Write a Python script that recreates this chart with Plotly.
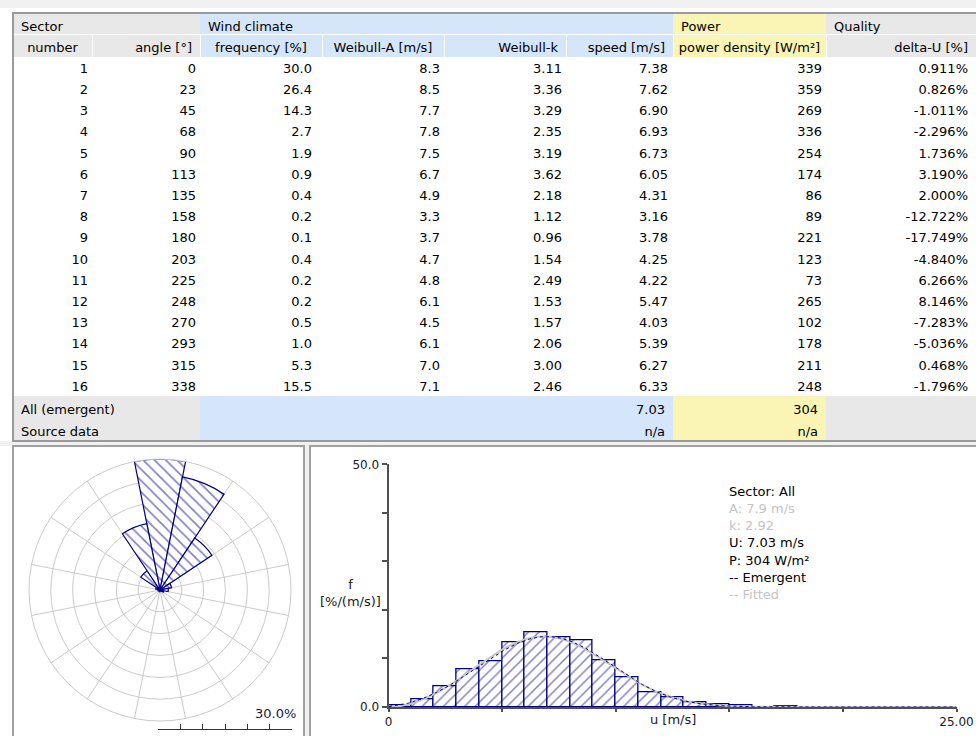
import numpy as np
import plotly.graph_objects as go

W, H = 976, 736
FONT = "DejaVu Sans"

# ---------------- sector table ----------------
sector_number = list(range(1, 17))
sector_angle = [0, 23, 45, 68, 90, 113, 135, 158, 180, 203, 225, 248, 270, 293, 315, 338]
frequency = [30.0, 26.4, 14.3, 2.7, 1.9, 0.9, 0.4, 0.2, 0.1, 0.4, 0.2, 0.2, 0.5, 1.0, 5.3, 15.5]
weibull_a = [8.3, 8.5, 7.7, 7.8, 7.5, 6.7, 4.9, 3.3, 3.7, 4.7, 4.8, 6.1, 4.5, 6.1, 7.0, 7.1]
weibull_k = [3.11, 3.36, 3.29, 2.35, 3.19, 3.62, 2.18, 1.12, 0.96, 1.54, 2.49, 1.53, 1.57, 2.06, 3.00, 2.46]
mean_speed = [7.38, 7.62, 6.90, 6.93, 6.73, 6.05, 4.31, 3.16, 3.78, 4.25, 4.22, 5.47, 4.03, 5.39, 6.27, 6.33]
power_density = [339, 359, 269, 336, 254, 174, 86, 89, 221, 123, 73, 265, 102, 178, 211, 248]
delta_u = [0.911, 0.826, -1.011, -2.296, 1.736, 3.190, 2.000, -12.722, -17.749,
           -4.840, 6.266, 8.146, -7.283, -5.036, 0.468, -1.796]

all_speed = 7.03
all_power = 304

# fitted Weibull for all sectors
fit_a = 7.9
fit_k = 2.92

# observed speed distribution, 1 m/s bins starting at 0 m/s  [%/(m/s)]
bin_left = list(range(0, 18))
hist_freq = [0.4, 1.5, 4.2, 7.8, 9.4, 13.3, 15.4, 14.4, 13.7, 9.7, 6.1, 3.0, 1.9, 0.9, 0.6, 0.3, 0.0, 0.2]

# ---------------- styling ----------------
GRAY = "#E8E8E8"
BLUE = "#D5E5FA"
YELLOW = "#FAF4B5"
NAVY = "#000080"
GRID = "#CBCBCB"
AXIS = "#505050"
LIGHT_TXT = "#C4C4C4"
BG = "#F0F0F0"
TXT = dict(family=FONT, size=13, color="black")


def px_x(x):
    return x / W


def px_y(y):
    return 1 - y / H


def weibull_pdf(u, a, k):
    return (k / a) * (u / a) ** (k - 1) * np.exp(-(u / a) ** k)


fig = go.Figure()

# ---- sector rows (white body; first sector row acts as the table's header row) ----
data_cols = [
    [str(n) for n in sector_number],
    [str(a) for a in sector_angle],
    [f"{v:.1f}" for v in frequency],
    [f"{v:.1f}" for v in weibull_a],
    [f"{v:.2f}" for v in weibull_k],
    [f"{v:.2f}" for v in mean_speed],
    [f"{v:d}" for v in power_density],
    [f"{v:.3f}%" for v in delta_u],
]
fig.add_trace(go.Table(
    domain=dict(x=[px_x(17), 1], y=[px_y(396), px_y(55)]),
    columnwidth=[79, 108, 116, 128, 122, 106, 154, 146],
    header=dict(values=[c[0] for c in data_cols], fill_color="white",
                line=dict(color="white", width=1), align="right", height=21.2, font=TXT),
    cells=dict(values=[c[1:] for c in data_cols], fill_color="white",
               line=dict(color="white", width=1), align="right", height=21.2, font=TXT),
))

# ---- group header row ----
fig.add_trace(go.Table(
    domain=dict(x=[px_x(13), 1], y=[px_y(34), px_y(13)]),
    columnwidth=[187, 473, 153, 150],
    header=dict(values=["Sector", "Wind climate", "Power", "Quality"],
                fill_color=[GRAY, BLUE, YELLOW, GRAY],
                line=dict(color=[GRAY, BLUE, YELLOW, GRAY], width=1),
                align="left", height=21, font=TXT),
    cells=dict(values=[[], [], [], []]),
))

# ---- column titles ----
fig.add_trace(go.Table(
    domain=dict(x=[px_x(13), 1], y=[px_y(57), px_y(34)]),
    columnwidth=[79, 108, 122, 122, 122, 107, 153, 150],
    header=dict(values=["number", "angle [°]", "frequency [%]", "Weibull-A [m/s]",
                        "Weibull-k", "speed [m/s]",
                        "power\u00a0density\u00a0[W/m²]", "delta-U [%]"],
                fill_color=[GRAY, GRAY, BLUE, BLUE, BLUE, BLUE, YELLOW, GRAY],
                line=dict(color="white", width=1),
                align=["center", "right", "center", "center", "right", "right", "center", "right"],
                height=23, font=TXT),
    cells=dict(values=[[] for _ in range(8)]),
))

# ---- summary rows ----
sum_fill = [GRAY, BLUE, BLUE, YELLOW, GRAY]
fig.add_trace(go.Table(
    domain=dict(x=[px_x(13), 1], y=[px_y(441), px_y(396)]),
    columnwidth=[187, 366, 107, 153, 150],
    header=dict(values=["All (emergent)", "", f"{all_speed:.2f}", f"{all_power:d}", ""],
                fill_color=sum_fill, line=dict(color=sum_fill, width=1),
                align=["left", "right", "right", "right", "right"], height=22, font=TXT),
    cells=dict(values=[["Source data"], [""], ["n/a"], ["n/a"], [""]],
               fill_color=sum_fill, line=dict(color=sum_fill, width=1),
               align=["left", "right", "right", "right", "right"], height=22, font=TXT),
))

# ---- wind rose ----
sector_width = 360 / len(sector_number)
fig.add_trace(go.Barpolar(
    r=frequency,
    theta=[(n - 1) * sector_width for n in sector_number],
    width=[sector_width] * len(sector_number),
    marker=dict(color="white", line=dict(color=NAVY, width=1.2),
                pattern=dict(shape="\\", fgcolor=NAVY, bgcolor="white", size=8, solidity=0.2)),
    subplot="polar", hoverinfo="skip", showlegend=False,
))

# ---- speed histogram ----
fig.add_trace(go.Bar(
    x=[b + 0.5 for b in bin_left], y=hist_freq, width=1,
    marker=dict(color="white", line=dict(color=NAVY, width=1.3),
                pattern=dict(shape="/", fgcolor=NAVY, bgcolor="white", size=7.5, solidity=0.2)),
    xaxis="x", yaxis="y", hoverinfo="skip", showlegend=False,
))

u = np.linspace(0.02, 25, 800)
fitted = 100 * weibull_pdf(u, fit_a, fit_k)
emergent = sum(f * weibull_pdf(u, a, k) for f, a, k in zip(frequency, weibull_a, weibull_k))
fig.add_trace(go.Scatter(x=u, y=fitted, mode="lines", line=dict(color="#C6C6C6", width=2),
                         xaxis="x", yaxis="y", hoverinfo="skip", showlegend=False))
fig.add_trace(go.Scatter(x=u, y=emergent, mode="lines", line=dict(color=NAVY, width=1, dash="dot"),
                         xaxis="x", yaxis="y", hoverinfo="skip", showlegend=False))

# scale bar of the rose (0 .. 30 %)
fig.add_trace(go.Scatter(x=[0, 30], y=[0, 0], mode="lines", line=dict(width=0),
                         xaxis="x2", yaxis="y2", hoverinfo="skip", showlegend=False))

# ---------------- layout ----------------
shapes = [
    # window background pieces
    dict(type="rect", xref="paper", yref="paper", x0=0, x1=1, y0=px_y(8), y1=1,
         fillcolor=BG, line=dict(width=0), layer="below"),
    dict(type="rect", xref="paper", yref="paper", x0=0, x1=1, y0=px_y(446), y1=px_y(441),
         fillcolor=BG, line=dict(width=0), layer="below"),
    dict(type="rect", xref="paper", yref="paper", x0=px_x(304), x1=px_x(310), y0=0, y1=px_y(446),
         fillcolor=BG, line=dict(width=0), layer="below"),
    # panels
    dict(type="rect", xref="paper", yref="paper", x0=px_x(13), x1=px_x(304), y0=px_y(740), y1=px_y(446),
         fillcolor="white", line=dict(color="#A0A0A0", width=2), layer="below"),
    dict(type="rect", xref="paper", yref="paper", x0=px_x(310), x1=px_x(980), y0=px_y(740), y1=px_y(446),
         fillcolor="white", line=dict(color="#A0A0A0", width=2), layer="below"),
    # table frame
    dict(type="rect", xref="paper", yref="paper", x0=px_x(13), x1=px_x(980), y0=px_y(441), y1=px_y(13),
         fillcolor="rgba(0,0,0,0)", line=dict(color="#9A9A9A", width=2), layer="above"),
]

legend_lines = [
    ("Sector: All", "black"),
    (f"A: {fit_a:.1f} m/s", LIGHT_TXT),
    (f"k: {fit_k:.2f}", LIGHT_TXT),
    (f"U: {all_speed:.2f} m/s", "black"),
    (f"P: {all_power:d} W/m²", "black"),
    (f"<span style='color:{NAVY}'>--</span> Emergent", "black"),
    ("-- Fitted", LIGHT_TXT),
]
annotations = []
for i, (txt, col) in enumerate(legend_lines):
    annotations.append(dict(text=txt, xref="paper", yref="paper", x=px_x(727), y=px_y(491 + i * 17.3),
                            xanchor="left", yanchor="middle", showarrow=False,
                            font=dict(family=FONT, size=13, color=col)))
annotations += [
    dict(text="f<br>[%/(m/s)]", xref="paper", yref="paper", x=px_x(383), y=px_y(593),
         xanchor="right", yanchor="middle", showarrow=False, align="center",
         font=dict(family=FONT, size=13, color="#1a1a1a")),
    dict(text="u [m/s]", xref="x", yref="paper", x=12.5, y=px_y(719),
         xanchor="center", yanchor="middle", showarrow=False,
         font=dict(family=FONT, size=13, color="#1a1a1a")),
    dict(text="30.0%", xref="paper", yref="paper", x=px_x(298), y=px_y(713),
         xanchor="right", yanchor="middle", showarrow=False,
         font=dict(family=FONT, size=13, color="#1a1a3a")),
]

rose_cx, rose_cy, rose_r = 160, 590, 131

fig.update_layout(
    width=W, height=H,
    margin=dict(l=0, r=0, t=0, b=0, pad=0, autoexpand=False),
    paper_bgcolor="white", plot_bgcolor="rgba(0,0,0,0)",
    showlegend=False, font=TXT,
    shapes=shapes, annotations=annotations, bargap=0,
    polar=dict(
        domain=dict(x=[px_x(rose_cx - rose_r), px_x(rose_cx + rose_r)],
                    y=[px_y(rose_cy + rose_r), px_y(rose_cy - rose_r)]),
        bgcolor="white",
        radialaxis=dict(range=[0, 30], tickvals=[5, 10, 15, 20, 25, 30], showticklabels=False,
                        ticks="", showline=False, gridcolor=GRID, gridwidth=1),
        angularaxis=dict(direction="clockwise", rotation=90,
                         tickvals=[sector_width / 2 + sector_width * i for i in range(16)],
                         showticklabels=False, ticks="", gridcolor=GRID, gridwidth=1,
                         showline=True, linecolor=GRID, linewidth=1),
    ),
    xaxis=dict(domain=[px_x(388.5), px_x(956.5)], range=[0, 25], anchor="y", automargin=False,
               tickvals=[0, 5, 10, 15, 20, 25], ticktext=["0", "", "", "", "", "25.00"],
               ticks="outside", ticklen=3, tickcolor=AXIS, tickwidth=1.5,
               showline=True, linecolor=AXIS, linewidth=2, showgrid=False, zeroline=False,
               tickfont=dict(family=FONT, size=12, color="#1a1a1a"), fixedrange=True),
    yaxis=dict(domain=[px_y(707), px_y(464.3)], range=[0, 50], anchor="x", automargin=False,
               tickvals=[0, 10, 20, 30, 40, 50], ticktext=["0.0", "", "", "", "", "50.0"],
               ticks="outside", ticklen=5, tickcolor=AXIS, tickwidth=1.5,
               showline=True, linecolor=AXIS, linewidth=2, showgrid=False, zeroline=False,
               tickfont=dict(family=FONT, size=12, color="#1a1a1a"), fixedrange=True),
    xaxis2=dict(domain=[px_x(158), px_x(292)], range=[0, 30], anchor="y2", automargin=False,
                tickvals=[0, 5, 10, 15, 20, 25, 30], ticks="inside", ticklen=5,
                tickcolor="#333333", showticklabels=False, showline=True,
                linecolor="#333333", linewidth=1, showgrid=False, zeroline=False, fixedrange=True),
    yaxis2=dict(domain=[px_y(729), px_y(716)], range=[0, 1], anchor="x2", visible=False,
                automargin=False, fixedrange=True),
)

fig.write_html("out.html")
